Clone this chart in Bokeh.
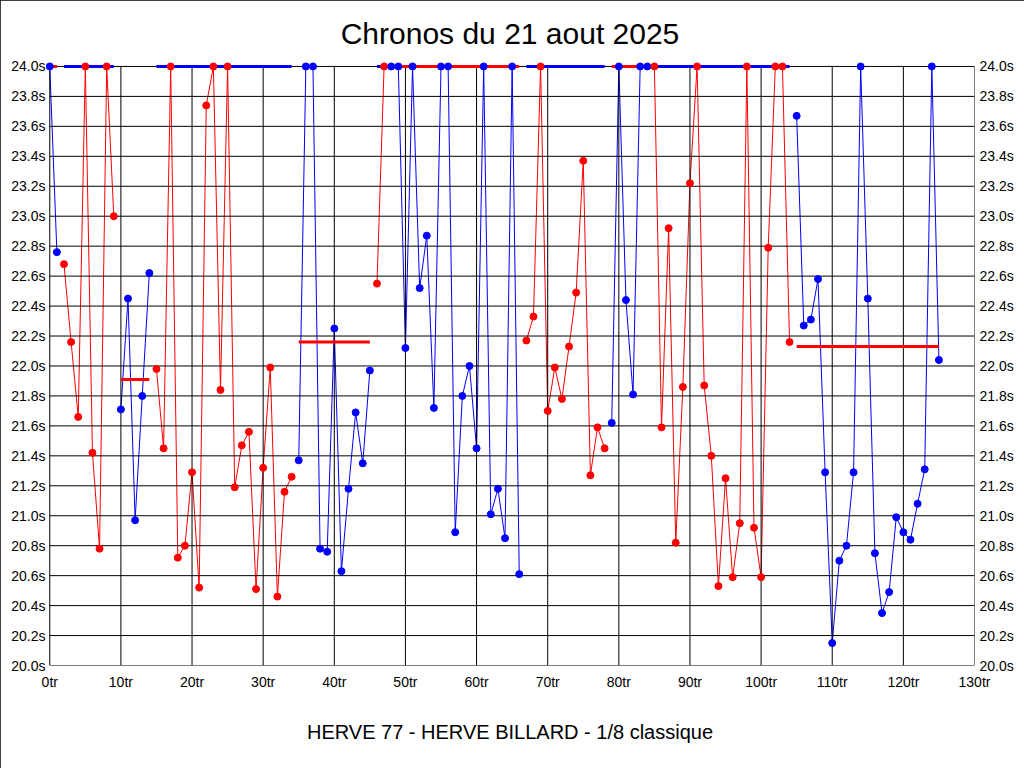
from bokeh.plotting import figure
from bokeh.models import FixedTicker, LinearAxis, Title, Range1d
from bokeh.embed import file_html
from bokeh.resources import INLINE

# ---- data -------------------------------------------------------------
turns = list(range(0, 126))
chronos = [
    24.00, 22.76, 22.68, 22.16, 21.66, 24.00, 21.42, 20.78, 24.00, 23.00,
    21.71, 22.45, 20.97, 21.80, 22.62, 21.98, 21.45, 24.00, 20.72, 20.80,
    21.29, 20.52, 23.74, 24.00, 21.84, 24.00, 21.19, 21.47, 21.56, 20.51,
    21.32, 21.99, 20.46, 21.16, 21.26, 21.37, 24.00, 24.00, 20.78, 20.76,
    22.25, 20.63, 21.18, 21.69, 21.35, 21.97, 22.55, 24.00, 24.00, 24.00,
    22.12, 24.00, 22.52, 22.87, 21.72, 24.00, 24.00, 20.89, 21.80, 22.00,
    21.45, 24.00, 21.01, 21.18, 20.85, 24.00, 20.61, 22.17, 22.33, 24.00,
    21.70, 21.99, 21.78, 22.13, 22.49, 23.37, 21.27, 21.59, 21.45, 21.62,
    24.00, 22.44, 21.81, 24.00, 24.00, 24.00, 21.59, 22.92, 20.82, 21.86,
    23.22, 24.00, 21.87, 21.40, 20.53, 21.25, 20.59, 20.95, 24.00, 20.92,
    20.59, 22.79, 24.00, 24.00, 22.16, 23.67, 22.27, 22.31, 22.58, 21.29,
    20.15, 20.70, 20.80, 21.29, 24.00, 22.45, 20.75, 20.35, 20.49, 20.99,
    20.89, 20.84, 21.08, 21.31, 24.00, 22.04,
]
# runs (series) alternate between the two players: blue, red, blue, ...
run_starts = [0, 2, 10, 15, 35, 46, 48, 67, 79, 85, 105]
run_ends   = [1, 9, 14, 34, 45, 47, 66, 78, 84, 104, 125]
run_means  = [24.00, 24.00, 21.91, 24.00, 22.16, 24.00, 24.00, 24.00, 24.00, 24.00, 22.13]

x_ticks = list(range(0, 131, 10))
x_tick_labels = ["0tr", "10tr", "20tr", "30tr", "40tr", "50tr", "60tr", "70tr",
                 "80tr", "90tr", "100tr", "110tr", "120tr", "130tr"]
y_ticks = [20.0, 20.2, 20.4, 20.6, 20.8, 21.0, 21.2, 21.4, 21.6, 21.8, 22.0,
           22.2, 22.4, 22.6, 22.8, 23.0, 23.2, 23.4, 23.6, 23.8, 24.0]
y_tick_labels = ["20.0s", "20.2s", "20.4s", "20.6s", "20.8s", "21.0s", "21.2s",
                 "21.4s", "21.6s", "21.8s", "22.0s", "22.2s", "22.4s", "22.6s",
                 "22.8s", "23.0s", "23.2s", "23.4s", "23.6s", "23.8s", "24.0s"]

title_text = "Chronos du 21 aout 2025"
subtitle_text = "HERVE 77 - HERVE BILLARD - 1/8 classique"

BLUE = "#0000ff"
RED = "#ff0000"
PLAYER_COLORS = [BLUE, RED]
FONT = "Liberation Sans"

X_MIN, X_MAX = x_ticks[0], x_ticks[-1]
Y_MIN, Y_MAX = y_ticks[0], y_ticks[-1]

# ---- figure -----------------------------------------------------------
# ranges padded a little so that marks on the 24.0s / 0tr edges are not clipped
p = figure(width=1024, height=768, output_backend="svg", toolbar_location=None,
           x_range=Range1d(X_MIN - 0.6, X_MAX), y_range=Range1d(Y_MIN, Y_MAX + 0.033),
           min_border_left=45, min_border_right=50,
           min_border_top=61, min_border_bottom=102,
           background_fill_color="white", border_fill_color="white")
p.styles = {"outline": "1px solid black", "outline-offset": "-1px"}

p.outline_line_color = None
p.xgrid.visible = False
p.ygrid.visible = False

yt = FixedTicker(ticks=y_ticks)
xt = FixedTicker(ticks=x_ticks)
y_over = {t: l for t, l in zip(y_ticks, y_tick_labels)}
x_over = {t: l for t, l in zip(x_ticks, x_tick_labels)}

def style_axis(ax, ticker, overrides, standoff):
    ax.ticker = ticker
    ax.major_label_overrides = overrides
    ax.major_tick_in = 0
    ax.major_tick_out = 0
    ax.minor_tick_in = 0
    ax.minor_tick_out = 0
    ax.axis_line_color = None
    ax.major_label_text_font = FONT
    ax.major_label_text_font_size = "14px"
    ax.major_label_text_color = "black"
    ax.major_label_standoff = standoff

style_axis(p.xaxis[0], xt, x_over, 8)
style_axis(p.yaxis[0], yt, y_over, 0)
right = LinearAxis()
style_axis(right, FixedTicker(ticks=y_ticks), y_over, 5)
p.add_layout(right, "right")

# ---- runs: lines + points -------------------------------------------
xs, ys, lcols = [], [], []
px, py, pcols = [], [], []
mx0, mx1, my, mcols = [], [], [], []
for k, (s, e, m) in enumerate(zip(run_starts, run_ends, run_means)):
    col = PLAYER_COLORS[k % 2]
    other = PLAYER_COLORS[(k + 1) % 2]
    xs.append(turns[s:e + 1])
    ys.append(chronos[s:e + 1])
    lcols.append(col)
    px += turns[s:e + 1]
    py += chronos[s:e + 1]
    pcols += [col] * (e - s + 1)
    mx0.append(s)
    mx1.append(e)
    my.append(m)
    mcols.append(other)

p.multi_line(xs=xs, ys=ys, line_color=lcols, line_width=1)

# grid drawn over the lines, limited to the plotting box
p.segment(x0=[X_MIN] * len(y_ticks), y0=y_ticks, x1=[X_MAX] * len(y_ticks), y1=y_ticks,
          line_color="black", line_width=1)
p.segment(x0=x_ticks, y0=[Y_MIN] * len(x_ticks), x1=x_ticks, y1=[Y_MAX] * len(x_ticks),
          line_color="black", line_width=1)

p.segment(x0=mx0, y0=my, x1=mx1, y1=my, line_color=mcols, line_width=3,
          line_cap="butt")
p.scatter(x=px, y=py, size=7, fill_color=pcols, line_color=pcols)

# ---- titles -----------------------------------------------------------
p.title.text = title_text
p.title.align = "center"
p.title.text_font = FONT
p.title.text_font_size = "30px"
p.title.text_font_style = "normal"
p.title.text_color = "black"
p.title.standoff = 24

sub = Title(text=subtitle_text, align="center", text_font=FONT,
            text_font_size="20px", text_font_style="normal",
            text_color="black", standoff=52)
p.add_layout(sub, "below")

open("out.html", "w").write(file_html(p, INLINE))
